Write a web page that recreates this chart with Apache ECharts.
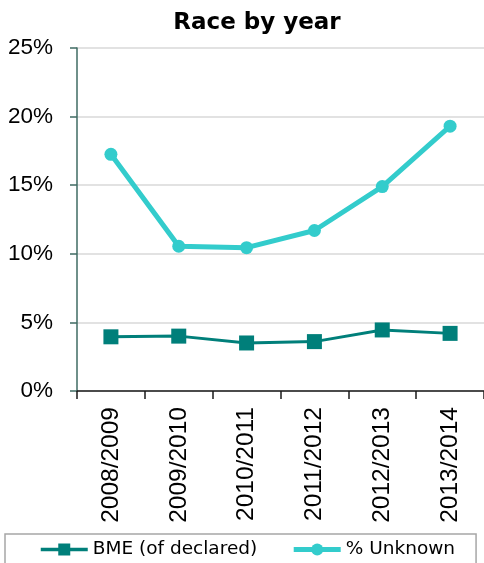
<!DOCTYPE html>
<html>
<head>
<meta charset="utf-8">
<title>Race by year</title>
<script src="https://cdn.jsdelivr.net/npm/echarts@6/dist/echarts.min.js"></script>
<style>
  html, body { margin: 0; padding: 0; background: #ffffff; }
  #chart { width: 484px; height: 563px; }
</style>
</head>
<body>
<div id="chart"></div>
<script>
// Academic years on the category axis
var years = ['2008/2009', '2009/2010', '2010/2011', '2011/2012', '2012/2013', '2013/2014'];

// Share of staff, in percent
var bmeDeclared = [3.95, 4.0, 3.5, 3.6, 4.45, 4.2];
var unknownRace = [17.25, 10.55, 10.45, 11.7, 14.9, 19.3];

// Value-axis ticks (percent)
var yTicks = [0, 5, 10, 15, 20, 25];

var BME_COLOR = '#007f7a';
var UNKNOWN_COLOR = '#33cccc';

var chart = echarts.init(document.getElementById('chart'), null, { renderer: 'canvas' });

chart.setOption({
  animation: false,
  backgroundColor: '#ffffff',
  title: {
    text: 'Race by year',
    left: 252,
    textAlign: 'center',
    top: 7,
    textStyle: {
      fontFamily: 'DejaVu Sans',
      fontWeight: 'bold',
      fontSize: 23,
      color: '#000000'
    }
  },
  legend: {
    left: 5,
    top: 534,
    width: 425,
    orient: 'horizontal',
    padding: [6, 21, 20, 34],
    borderColor: '#a6a6a6',
    borderWidth: 1.5,
    itemWidth: 47,
    itemHeight: 15,
    itemGap: 34,
    textStyle: {
      fontFamily: 'DejaVu Sans',
      fontSize: 18.5,
      color: '#000000'
    },
    data: [
      { name: 'BME (of declared)', lineStyle: { width: 3.5, color: BME_COLOR } },
      { name: '% Unknown', lineStyle: { width: 5, color: UNKNOWN_COLOR } }
    ]
  },
  grid: {
    left: 77,
    top: 48,
    right: -1,
    bottom: 172,
    containLabel: false
  },
  xAxis: {
    type: 'category',
    data: years,
    boundaryGap: true,
    axisLine: { lineStyle: { color: '#1a1a1a', width: 1.5 } },
    axisTick: { show: true, length: 8, lineStyle: { color: '#1a1a1a', width: 1.5 } },
    axisLabel: {
      rotate: 90,
      margin: 16,
      fontFamily: 'Liberation Sans',
      fontSize: 24.5,
      color: '#000000'
    },
    splitLine: { show: false }
  },
  yAxis: {
    type: 'value',
    min: yTicks[0],
    max: yTicks[yTicks.length - 1],
    interval: yTicks[1] - yTicks[0],
    axisLine: { show: true, lineStyle: { color: '#3f6b63', width: 1.5 } },
    axisTick: { show: true, length: 7, lineStyle: { color: '#3f6b63', width: 1.5 } },
    axisLabel: {
      margin: 24,
      fontFamily: 'Liberation Sans',
      fontSize: 22.5,
      color: '#000000',
      formatter: function (v) { return v + '%'; }
    },
    splitLine: { show: true, lineStyle: { color: '#d9d9d9', width: 1.5 } }
  },
  series: [
    {
      name: 'BME (of declared)',
      type: 'line',
      data: bmeDeclared,
      symbol: 'rect',
      symbolSize: 15,
      color: BME_COLOR,
      lineStyle: { color: BME_COLOR, width: 3 },
      itemStyle: { color: BME_COLOR },
      z: 3
    },
    {
      name: '% Unknown',
      type: 'line',
      data: unknownRace,
      symbol: 'circle',
      symbolSize: 13,
      color: UNKNOWN_COLOR,
      lineStyle: { color: UNKNOWN_COLOR, width: 5 },
      itemStyle: { color: UNKNOWN_COLOR },
      z: 2
    }
  ]
});
</script>
</body>
</html>
